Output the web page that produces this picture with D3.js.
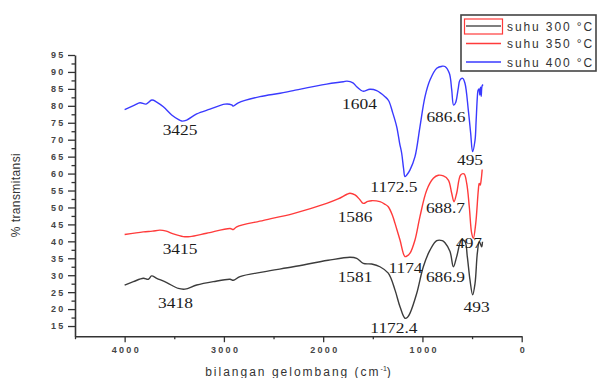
<!DOCTYPE html>
<html><head><meta charset="utf-8">
<script src="https://cdn.jsdelivr.net/npm/d3@7"></script>
<style>
html,body{margin:0;padding:0;background:#fff;}
svg{display:block;}
</style></head><body>
<svg id="chart" width="600" height="378"></svg>
<script>
// FTIR spectra: [wavenumber (cm-1), % transmittance]
const seriesNames = ["suhu 300 °C", "suhu 350 °C", "suhu 400 °C"];
const seriesColors = ["#3c3c3c", "#ff3b3b", "#3a3aff"];

const xTicks = [4000, 3000, 2000, 1000, 0];
const xMinorTicks = [4500, 3500, 2500, 1500, 500];
const yTicks = [15, 20, 25, 30, 35, 40, 45, 50, 55, 60, 65, 70, 75, 80, 85, 90, 95];

const spectrum300 = [
  [4000,27.1],[3912,28.1],[3812,29.1],[3761,28.8],[3728,29.8],[3677,29.1],[3576,27.8],
  [3459,26.1],[3392,25.9],[3274,27.1],[3107,28.1],[2938,28.8],[2905,28.5],[2838,29.6],
  [2600,31.0],[2301,32.5],[1950,34.4],[1730,35.3],[1662,35.0],[1596,33.5],[1511,33.3],
  [1428,32.5],[1344,30.6],[1276,25.6],[1226,20.7],[1176,17.3],[1150,17.6],[1125,18.8],
  [1058,24.6],[991,32.5],[924,37.4],[856,40.2],[800,40.2],[773,39.6],[722,37.0],[688,32.5],
  [655,35.5],[605,40.4],[571,39.9],[548,35.5],[521,28.6],[494,24.2],[470,27.6],[447,36.5],
  [427,39.9],[403,38.4],[395,39.9]
];
const spectrum350 = [
  [4000,42.0],[3812,42.8],[3720,43.0],[3645,43.3],[3580,43.0],[3510,42.2],[3409,41.4],
  [3342,41.4],[3174,42.4],[2938,43.8],[2905,43.5],[2871,44.3],[2600,46.2],[2301,48.2],
  [1965,51.2],[1850,52.5],[1760,53.9],[1730,54.2],[1679,53.7],[1630,52.3],[1596,51.2],
  [1550,51.8],[1511,52.0],[1428,51.7],[1380,51.0],[1344,50.2],[1300,47.5],[1276,45.3],
  [1226,40.4],[1176,35.5],[1150,35.8],[1125,36.5],[1075,40.4],[1025,47.3],[957,55.1],
  [890,58.6],[840,59.5],[789,59.3],[739,58.1],[705,54.2],[682,51.7],[655,54.2],[615,59.6],
  [581,59.9],[554,57.1],[528,50.2],[504,42.4],[487,40.9],[463,45.3],[437,55.1],[428,57.1],
  [418,56.6],[408,58.2],[398,61.2]
];
const spectrum400 = [
  [4000,78.9],[3900,80.2],[3845,80.9],[3784,80.5],[3726,81.7],[3677,81.1],[3610,79.7],
  [3526,77.3],[3460,76.0],[3425,75.5],[3375,75.8],[3274,77.6],[3140,79.0],[2989,80.5],
  [2922,80.3],[2905,79.9],[2855,80.9],[2637,82.7],[2434,83.7],[2301,84.5],[1965,86.4],
  [1797,87.1],[1760,87.3],[1700,86.8],[1662,85.6],[1620,84.6],[1596,84.3],[1528,84.9],
  [1461,84.5],[1377,82.7],[1340,81.5],[1300,78.0],[1259,73.8],[1230,69.0],[1209,66.0],
  [1190,61.5],[1176,59.1],[1160,59.5],[1125,61.1],[1075,65.0],[1025,73.8],[974,82.7],
  [924,87.6],[856,91.1],[800,91.7],[773,91.6],[729,89.6],[705,84.7],[686,80.2],[665,81.0],
  [640,85.0],[622,87.6],[594,88.1],[571,86.6],[538,78.8],[514,71.9],[495,66.5],[470,69.9],
  [460,75.0],[447,82.5],[440,84.5],[430,85.0],[422,83.2],[415,85.5],[408,82.8],[400,85.8],
  [390,86.3]
];
const spectra = [spectrum300, spectrum350, spectrum400];

// peak annotations, anchored at [wavenumber, % transmittance]
const peakText = ["3425","1604","686.6","1172.5","495",
                  "3415","1586","688.7","1174","497",
                  "3418","1581","686.9","493","1172.4"];
const peakWave = [3442,1634,763,1287,521, 3442,1679,768,1171,531, 3488,1679,768,455,1287];
const peakT    = [71.4,79.1,75.2,54.6,62.5, 36.3,45.7,48.4,30.6,38.0, 20.3,28.0,28.0,19.1,12.9];

const svg = d3.select("#chart");
const x = d3.scaleLinear().domain([4500, 0]).range([75, 521.7]);
const y = d3.scaleLinear().domain([12, 95]).range([336.2, 55]);
const axisColor = "#333";

function styleAxis(g) {
  g.select(".domain").attr("stroke", axisColor).attr("stroke-width", 1.6);
  g.selectAll(".tick line").attr("stroke", axisColor).attr("stroke-width", 1.3);
  g.selectAll(".tick text")
    .attr("fill", "#454545")
    .style("font-family", "Liberation Sans, Arial, sans-serif")
    .style("font-weight", "bold")
    .style("font-size", "9px")
    .style("letter-spacing", "2.3px");
}

// x axis: minor then major ticks
svg.append("g").attr("transform", `translate(0,${y(12)})`)
  .call(d3.axisBottom(x).tickValues(xMinorTicks).tickSize(3).tickFormat(""))
  .call(g => { g.select(".domain").remove(); g.selectAll(".tick line").attr("stroke", axisColor).attr("stroke-width", 1.3); });
svg.append("g").attr("transform", `translate(0,${y(12)})`)
  .call(d3.axisBottom(x).tickValues(xTicks).tickSize(6).tickSizeOuter(0).tickPadding(4).tickFormat(d3.format("d")))
  .call(styleAxis)
  .call(g => g.selectAll(".tick text").attr("dx", "1.2px"));

// y axis: minor then major ticks
const yMinor = d3.range(17.5, 95, 5);
svg.append("g").attr("transform", `translate(${x(4500)},0)`)
  .call(d3.axisLeft(y).tickValues(yMinor).tickSize(3.5).tickFormat(""))
  .call(g => { g.select(".domain").remove(); g.selectAll(".tick line").attr("stroke", axisColor).attr("stroke-width", 1.3); });
svg.append("g").attr("transform", `translate(${x(4500)},0)`)
  .call(d3.axisLeft(y).tickValues(yTicks).tickSize(7).tickSizeOuter(0).tickPadding(3).tickFormat(d3.format("d")))
  .call(styleAxis)
  .call(g => g.selectAll(".tick text").attr("dx", "0.5px"));

// axis titles
const xTitle = svg.append("text")
  .attr("x", 299).attr("y", 376)
  .attr("text-anchor", "middle")
  .attr("fill", "#333")
  .style("font-family", "Liberation Sans, Arial, sans-serif")
  .style("font-size", "12px")
  .style("letter-spacing", "2px");
xTitle.append("tspan").text("bilangan gelombang (cm");
xTitle.append("tspan").attr("dy", -5).style("font-size", "7px").style("letter-spacing", "0px").text("-1");
xTitle.append("tspan").attr("dy", 5).text(")");

svg.append("text")
  .attr("transform", "translate(20,195) rotate(-90)")
  .attr("text-anchor", "middle")
  .attr("fill", "#333")
  .style("font-family", "Liberation Sans, Arial, sans-serif")
  .style("font-size", "12px")
  .style("letter-spacing", "0.4px")
  .text("% transmitansi");

// spectra
const line = d3.line()
  .x(d => x(d[0]))
  .y(d => y(d[1]))
  .curve(d3.curveCatmullRom.alpha(0.5));

svg.append("g").selectAll("path")
  .data(spectra)
  .join("path")
  .attr("d", line)
  .attr("fill", "none")
  .attr("stroke", (d, i) => seriesColors[i])
  .attr("stroke-width", 1.4)
  .attr("stroke-linejoin", "round");

// peak labels
svg.append("g").selectAll("text")
  .data(peakText)
  .join("text")
  .attr("transform", (d, i) => `translate(${x(peakWave[i])},${y(peakT[i])}) scale(1.16,1)`)
  .attr("text-anchor", "middle")
  .attr("fill", "#1c1c1c")
  .style("font-family", "Liberation Serif, Times New Roman, serif")
  .style("font-size", "15px")
  .text(d => d);

// legend
const legend = svg.append("g");
legend.append("rect")
  .attr("x", 461).attr("y", 15).attr("width", 135).attr("height", 56)
  .attr("fill", "#fff").attr("stroke", "#444").attr("stroke-width", 1.6);
const rowY = [26, 43.5, 62];
legend.append("rect")
  .attr("x", 464.5).attr("y", 19).attr("width", 38).attr("height", 15)
  .attr("fill", "none").attr("stroke", "#ff3b3b").attr("stroke-width", 1.2);
legend.selectAll("line.key")
  .data(seriesNames)
  .join("line")
  .attr("class", "key")
  .attr("x1", 466).attr("x2", 501)
  .attr("y1", (d, i) => rowY[i]).attr("y2", (d, i) => rowY[i])
  .attr("stroke", (d, i) => i === 0 ? "#555" : seriesColors[i])
  .attr("stroke-width", 1.4);
legend.selectAll("text.key")
  .data(seriesNames)
  .join("text")
  .attr("class", "key")
  .attr("x", 507)
  .attr("y", (d, i) => rowY[i] + 4.5)
  .attr("fill", "#333")
  .style("font-family", "Liberation Sans, Arial, sans-serif")
  .style("font-size", "12px")
  .style("letter-spacing", "1.9px")
  .style("white-space", "pre")
  .text(d => d);
</script>
</body></html>
